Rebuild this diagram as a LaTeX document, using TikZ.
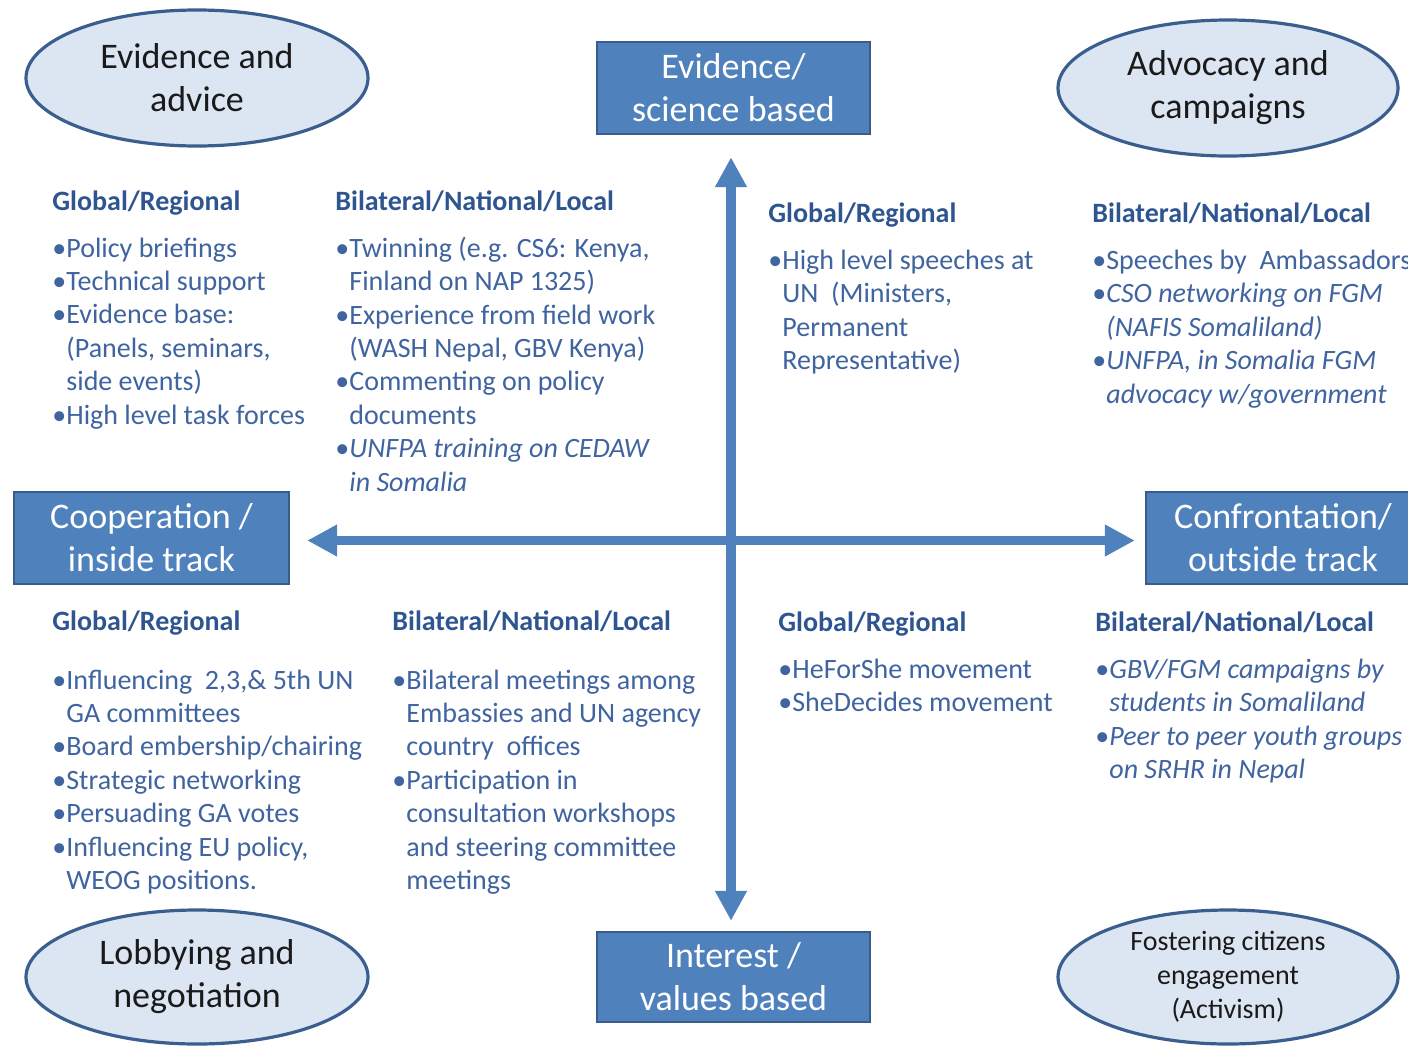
\documentclass[tikz,border=0pt]{standalone}
\usepackage{fontspec}
\setmainfont{Carlito}
\usetikzlibrary{shapes.geometric,arrows.meta}
\definecolor{boxblue}{HTML}{4F81BD}
\definecolor{boxedge}{HTML}{385D8A}
\definecolor{ellfill}{HTML}{DCE6F2}
\definecolor{elledge}{HTML}{3A5F8F}
\definecolor{headblue}{HTML}{2E5590}
\definecolor{txtblue}{HTML}{3F64A0}
\definecolor{darktxt}{HTML}{1A1A1A}
\newcommand{\bl}{\makebox[7pt][l]{•}}
\newcommand{\ci}{\hspace*{7pt}}
\tikzset{
  head/.style={anchor=base west, inner sep=0pt, font=\fontsize{14}{16.7}\selectfont\bfseries, text=headblue},
  items/.style={anchor=base west, inner sep=0pt, align=left, font=\fontsize{14}{16.7}\selectfont, text=txtblue},
  bluebox/.style={rectangle, fill=boxblue, draw=boxedge, line width=1.2pt, text=white, align=center,
    font=\fontsize{18}{21.5}\selectfont, inner sep=0pt},
  ell/.style={ellipse, fill=ellfill, draw=elledge, line width=1.6pt, inner sep=0pt},
  elltxt/.style={align=center, text=darktxt, inner sep=0pt, font=\fontsize{18}{21.5}\selectfont},
  bigarr/.style={draw=boxblue, line width=4.75pt,
    {Triangle[width=15pt,length=15pt]}-{Triangle[width=15pt,length=15pt]}},
}
\begin{document}
\begin{tikzpicture}[x=0.5pt,y=-0.5pt]
\useasboundingbox (0,0) rectangle (1408,1045);
\fill[white] (0,0) rectangle (1408,1045);

% ellipses
\node (ea) [ell, minimum width=171pt, minimum height=68pt] at (197,78) {};
\node (eat) [elltxt] at (ea) {Evidence and\\advice};
\node (eb) [ell, minimum width=170pt, minimum height=68pt] at (1228,88) {};
\node (ebt) [elltxt] at (eb) {Advocacy and\\campaigns};
\node (ec) [ell, minimum width=171pt, minimum height=67pt] at (197,977) {};
\node (ect) [elltxt] at (ec) {Lobbying and\\negotiation};
\node (ed) [ell, minimum width=170pt, minimum height=67pt] at (1228,977) {};
\node (edt) [elltxt, font=\fontsize{14}{16.9}\selectfont] at (ed) {Fostering citizens\\engagement\\(Activism)};

% boxes
\node (top) [bluebox, minimum width=136.5pt, minimum height=46pt] at (733.5,88) {Evidence/\\science based};
\node (bot) [bluebox, minimum width=136.5pt, minimum height=45pt] at (733.5,977) {Interest /\\values based};
\node (lft) [bluebox, minimum width=137.5pt, minimum height=46pt] at (151.5,538) {Cooperation /\\inside track};
\node (rgt) [bluebox, minimum width=137pt, minimum height=46pt] at (1283,538) {Confrontation/\\outside track};

% axes
\draw[bigarr, shorten <=11pt, shorten >=5pt] ([xshift=-1.25pt]top.south) -- ([xshift=-1.25pt]bot.north);
\draw[bigarr, shorten <=8.5pt, shorten >=5pt] ([yshift=-1.25pt]lft.east) -- ([yshift=-1.25pt]rgt.west);

% top-left quadrant
\node (h1) [head] at (52,210) {Global/Regional};
\node (i1) [items] at (52,424) {\bl Policy briefings\\
\bl Technical support\\
\bl Evidence base:\\
\ci (Panels, seminars,\\
\ci side events)\\
\bl High level task forces};
\node (h2) [head] at (335,210) {Bilateral/National/Local};
\node (i2) [items] at (335,491) {\bl Twinning (e.g. CS6: Kenya,\\
\ci Finland on NAP 1325)\\
\bl Experience from field work\\
\ci (WASH Nepal, GBV Kenya)\\
\bl Commenting on policy\\
\ci documents\\
\bl\textit{UNFPA training on CEDAW}\\
\ci\textit{in Somalia}};

% top-right quadrant
\node (h3) [head] at (768,222) {Global/Regional};
\node (i3) [items] at (768,369.5) {\bl High level speeches at\\
\ci UN\ \ (Ministers,\\
\ci Permanent\\
\ci Representative)};
\node (h4) [head] at (1092,222) {Bilateral/National/Local};
\node (i4) [items] at (1092,403) {\bl Speeches by\ \ Ambassadors\\
\bl\textit{CSO networking on FGM}\\
\ci\textit{(NAFIS Somaliland)}\\
\bl\textit{UNFPA, in Somalia FGM}\\
\ci\textit{advocacy w/government}};

% bottom-left quadrant
\node (h5) [head] at (52,630) {Global/Regional};
\node (i5) [items] at (52,889.5) {\bl Influencing\ \ 2,3,\& 5th UN\\
\ci GA committees\\
\bl Board embership/chairing\\
\bl Strategic networking\\
\bl Persuading GA votes\\
\bl Influencing EU policy,\\
\ci WEOG positions.};
\node (h6) [head] at (392,630) {Bilateral/National/Local};
\node (i6) [items] at (392,889.5) {\bl Bilateral meetings among\\
\ci Embassies and UN agency\\
\ci country\ \ offices\\
\bl Participation in\\
\ci consultation workshops\\
\ci and steering committee\\
\ci meetings};

% bottom-right quadrant
\node (h7) [head] at (778,631) {Global/Regional};
\node (i7) [items] at (778,711.5) {\bl HeForShe movement\\
\bl SheDecides movement};
\node (h8) [head] at (1095,631) {Bilateral/National/Local};
\node (i8) [items] at (1095,778.5) {\bl\textit{GBV/FGM campaigns by}\\
\ci\textit{students in Somaliland}\\
\bl\textit{Peer to peer youth groups}\\
\ci\textit{on SRHR in Nepal}};
\end{tikzpicture}
\end{document}
